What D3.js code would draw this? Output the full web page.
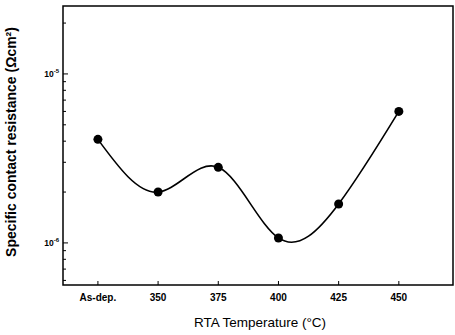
<!DOCTYPE html>
<html>
<head>
<meta charset="utf-8">
<script src="https://cdn.jsdelivr.net/npm/d3@7"></script>
<style>
  body { margin: 0; background: #fff; }
  svg { display: block; font-family: "Liberation Sans", Arial, sans-serif; }
</style>
</head>
<body>
<div id="chart"></div>
<script>
const categories = ["As-dep.", "350", "375", "400", "425", "450"];
const resistance = [4.1e-6, 2.0e-6, 2.8e-6, 1.07e-6, 1.7e-6, 6.0e-6];
const yMajorTicks = [1e-5, 1e-6];
const yTickExponents = ["-5", "-6"];

const width = 455, height = 335;
const margin = { top: 6, right: 2, bottom: 50, left: 63 };

const svg = d3.select("#chart").append("svg")
  .attr("width", width)
  .attr("height", height);

const x = d3.scaleLinear()
  .domain([-0.58, 5.9])
  .range([margin.left, width - margin.right]);

const y = d3.scaleLog()
  .domain([Math.pow(10, -6.249), Math.pow(10, -4.598)])
  .range([height - margin.bottom, margin.top]);

const x0 = margin.left, x1 = width - margin.right;
const y0 = height - margin.bottom, y1 = margin.top;

// minor ticks on the log axis
const minor = [];
for (let e = -7; e <= -4; e++) {
  for (let m = 2; m <= 9; m++) {
    const v = m * Math.pow(10, e);
    if (v > y.domain()[0] && v < y.domain()[1]) minor.push(v);
  }
}

svg.append("g").selectAll("line.minor")
  .data(minor)
  .join("line")
  .attr("x1", x0).attr("x2", x0 + 3)
  .attr("y1", d => y(d)).attr("y2", d => y(d))
  .attr("stroke", "#000").attr("stroke-width", 1);

svg.append("g").selectAll("line.major")
  .data(yMajorTicks)
  .join("line")
  .attr("x1", x0).attr("x2", x0 + 5)
  .attr("y1", d => y(d)).attr("y2", d => y(d))
  .attr("stroke", "#000").attr("stroke-width", 1);

const ylab = svg.append("g").selectAll("text")
  .data(yMajorTicks)
  .join("text")
  .attr("x", x0 - 4)
  .attr("y", d => y(d) + 3)
  .attr("text-anchor", "end")
  .attr("font-size", 8.5)
  .attr("font-weight", "bold");
ylab.append("tspan").text("10");
ylab.append("tspan")
  .attr("dy", -4)
  .attr("font-size", 6)
  .text((d, i) => yTickExponents[i]);

// x ticks
svg.append("g").selectAll("line")
  .data(categories)
  .join("line")
  .attr("x1", (d, i) => x(i)).attr("x2", (d, i) => x(i))
  .attr("y1", y0).attr("y2", y0 - 4)
  .attr("stroke", "#000").attr("stroke-width", 1);

svg.append("g").selectAll("text")
  .data(categories)
  .join("text")
  .attr("x", (d, i) => x(i))
  .attr("y", y0 + 16)
  .attr("text-anchor", "middle")
  .attr("font-size", 10)
  .attr("font-weight", "bold")
  .text(d => d);

// frame
svg.append("rect")
  .attr("x", x0).attr("y", y1)
  .attr("width", x1 - x0).attr("height", y0 - y1)
  .attr("fill", "none")
  .attr("stroke", "#000")
  .attr("stroke-width", 1.5);

// curve
const pts = resistance.map((v, i) => [x(i), y(v)]);
svg.append("path")
  .attr("d", d3.line().curve(d3.curveNatural)(pts))
  .attr("fill", "none")
  .attr("stroke", "#000")
  .attr("stroke-width", 1.6);

svg.append("g").selectAll("circle")
  .data(resistance)
  .join("circle")
  .attr("cx", (d, i) => x(i))
  .attr("cy", d => y(d))
  .attr("r", 4.5)
  .attr("fill", "#000");

// axis titles
svg.append("text")
  .attr("x", (x0 + x1) / 2 + 2)
  .attr("y", 327)
  .attr("text-anchor", "middle")
  .attr("font-size", 13.5)
  .text("RTA Temperature (\u00B0C)");

svg.append("text")
  .attr("transform", "translate(16,142) rotate(-90)")
  .attr("text-anchor", "middle")
  .attr("font-size", 14)
  .attr("font-weight", "bold")
  .text("Specific contact resistance (\u03A9cm\u00B2)");
</script>
</body>
</html>
